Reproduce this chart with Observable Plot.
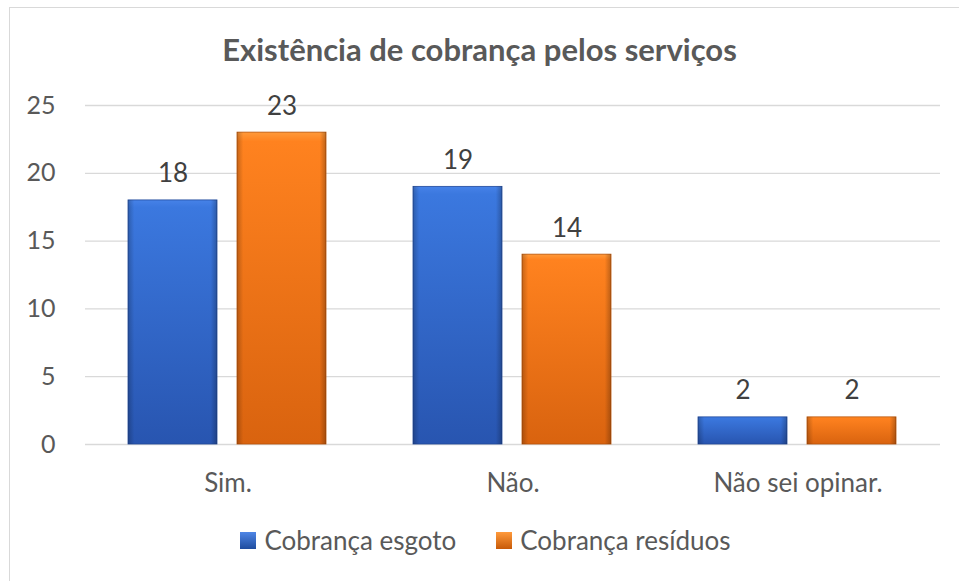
<!DOCTYPE html>
<html>
<head>
<meta charset="utf-8">
<script src="https://cdn.jsdelivr.net/npm/d3@7"></script>
<script src="https://cdn.jsdelivr.net/npm/@observablehq/plot@0.6"></script>
<style>
  html, body { margin: 0; padding: 0; background: #fff; }
  #wrap { position: relative; width: 959px; height: 581px; overflow: hidden; font-family: Lato, "Open Sans", sans-serif; color: #595959; }
  #frame { position: absolute; left: 9px; top: 7px; width: 1000px; height: 1000px; border-left: 1px solid #d9d9d9; border-top: 1px solid #d9d9d9; box-sizing: border-box; }
  #title { position: absolute; left: 0; top: 31px; width: 959px; text-align: center; font-weight: bold; font-size: 31px; line-height: 1.2; color: #595959; }
  #legend { position: absolute; left: 6px; top: 525px; width: 959px; display: flex; justify-content: center; gap: 40px; font-size: 26px; line-height: 1.2; color: #595959; }
  .item { display: flex; align-items: center; gap: 8px; }
  .sw { width: 16px; height: 17px; display: inline-block; }
  #chart { position: absolute; left: 0; top: 0; }
</style>
</head>
<body>
<div id="wrap">
  <div id="frame"></div>
  <div id="chart"></div>
  <div id="title">Existência de cobrança pelos serviços</div>
  <div id="legend"></div>
</div>
<script>
const categories = ["Sim.", "Não.", "Não sei opinar."];
const seriesNames = ["Cobrança esgoto", "Cobrança resíduos"];
const esgoto = [18, 19, 2];
const residuos = [23, 14, 2];
const yTicks = [0, 5, 10, 15, 20, 25];

const seriesColors = ["url(#gBlue)", "url(#gOrange)"];
const legendCss = [
  "linear-gradient(180deg,#4f86e6,#1f4c9e)",
  "linear-gradient(180deg,#ff9a3c,#c75a08)"
];

const data = [];
categories.forEach((c, i) => {
  data.push({cat: c, series: seriesNames[0], value: esgoto[i]});
  data.push({cat: c, series: seriesNames[1], value: residuos[i]});
});

const font = "Lato, 'Open Sans', sans-serif";

const plot = Plot.plot({
  width: 959,
  height: 581,
  marginLeft: 85,
  marginRight: 19,
  marginTop: 105,
  marginBottom: 137,
  style: {fontFamily: font, fontSize: "25px", color: "#595959", background: "transparent", overflow: "visible"},
  fx: {domain: categories, padding: 0, label: null},
  x: {domain: seriesNames, paddingInner: 0.1826, paddingOuter: 0.3927, axis: null},
  y: {domain: [0, 25], label: null},
  color: {domain: seriesNames, range: seriesColors},
  marks: [
    Plot.gridY(yTicks, {stroke: "#d9d9d9", strokeOpacity: 1, strokeWidth: 1.3}),
    Plot.axisY(yTicks, {tickSize: 0, tickPadding: 30, fontSize: 25, fill: "#595959", label: null}),
    Plot.axisFx({anchor: "bottom", tickSize: 0, tickPadding: 29, fontSize: 26, fill: "#595959", label: null}),
    Plot.barY(data, {fx: "cat", x: "series", y: "value", fill: "series", strokeWidth: 0.8}),
    Plot.barY(data, {fx: "cat", x: "series", y: "value", fill: "url(#gEdge)"}),
    Plot.text(data, {fx: "cat", x: "series", y: "value", text: d => String(d.value), dy: -18, lineAnchor: "bottom", fontSize: 26, fill: "#404040"})
  ]
});

d3.select(plot).selectAll("rect").each(function() {
  const f = this.getAttribute("fill") || "";
  if (f.includes("gBlue")) this.setAttribute("stroke", "#22499a");
  else if (f.includes("gOrange")) this.setAttribute("stroke", "#b85308");
});

const defs = d3.select(plot).insert("defs", ":first-child");
function grad(id, stops, horizontal) {
  const g = defs.append("linearGradient").attr("id", id)
    .attr("x1", 0).attr("y1", 0)
    .attr("x2", horizontal ? 1 : 0).attr("y2", horizontal ? 0 : 1);
  stops.forEach(([o, c, op]) => g.append("stop").attr("offset", o).attr("stop-color", c).attr("stop-opacity", op == null ? 1 : op));
}
grad("gBlue", [[0, "#4682e8"], [0.03, "#3b78df"], [1, "#2855b0"]], false);
grad("gOrange", [[0, "#ff9a3a"], [0.03, "#ff821f"], [1, "#d9630f"]], false);
grad("gEdge", [[0, "#000", 0.22], [0.07, "#000", 0.0], [0.93, "#000", 0.0], [1, "#000", 0.25]], true);

document.getElementById("chart").appendChild(plot);

const legend = document.getElementById("legend");
seriesNames.forEach((s, i) => {
  const it = document.createElement("div");
  it.className = "item";
  const sw = document.createElement("span");
  sw.className = "sw";
  sw.style.background = legendCss[i];
  const t = document.createElement("span");
  t.textContent = s;
  it.appendChild(sw);
  it.appendChild(t);
  legend.appendChild(it);
});
</script>
</body>
</html>
